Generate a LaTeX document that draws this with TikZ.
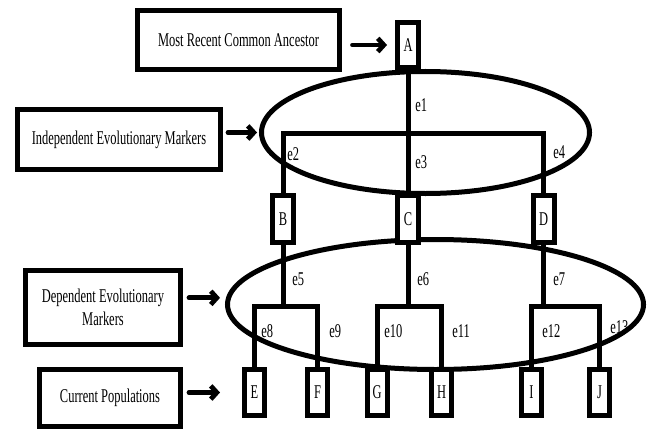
\documentclass[tikz,border=0pt]{standalone}
\usepackage{fontspec}
\setmainfont{Liberation Serif}[FakeStretch=0.64]
\usetikzlibrary{arrows.meta,shapes.geometric}
\begin{document}
\begin{tikzpicture}[x=0.75pt,y=-0.75pt,
  every node/.style={font=\fontsize{14.6pt}{17.25pt}\selectfont},
  lbl/.style={draw, line width=3.75pt, inner sep=0pt, align=center},
  leaf/.style={draw, line width=3.75pt, inner sep=0pt, minimum width=15.75pt, minimum height=35pt, fill=white},
  grp/.style={draw, line width=3.75pt, ellipse, inner sep=0pt},
  edge/.style={line width=3.75pt},
  elab/.style={anchor=base west, inner sep=0pt},
  arr/.style={line width=3.6pt, -{Straight Barb[length=4.5pt,width=10pt]}, line cap=round, line join=round}
]
\useasboundingbox (0,0) rectangle (648,431);

% group ellipses
\node[grp, minimum width=246pt, minimum height=91.5pt] (upE) at (425.5,132.5) {};
\node[grp, minimum width=312pt, minimum height=97.5pt] (loE) at (435.5,304.5) {};

% label boxes
\node[lbl, minimum width=151.5pt, minimum height=44.25pt] (mrca) at (238.5,40) {Most Recent Common Ancestor};
\node[lbl, minimum width=152.25pt, minimum height=45pt] (indep) at (119,139.5) {Independent Evolutionary Markers};
\node[lbl, minimum width=116.25pt, minimum height=55.5pt] (dep) at (103,307.5) {Dependent Evolutionary\\Markers};
\node[lbl, minimum width=105.75pt, minimum height=42.75pt] (cur) at (110,398) {Current Populations};

% tree nodes
\node[leaf, minimum height=33.75pt] (A) at (408,45) {A};
\node[leaf] (B) at (283,219) {B};
\node[leaf] (C) at (408,219) {C};
\node[leaf] (D) at (543.5,219) {D};
\node[leaf, minimum width=15pt, minimum height=34.5pt] (E) at (254.5,392.5) {E};
\node[leaf, minimum width=15pt, minimum height=34.5pt] (F) at (317.5,392.5) {F};
\node[leaf, minimum width=15pt, minimum height=34.5pt] (G) at (377,392.5) {G};
\node[leaf, minimum width=15pt, minimum height=34.5pt] (H) at (441.5,392.5) {H};
\node[leaf, minimum width=15pt, minimum height=34.5pt] (I) at (531.5,392.5) {I};
\node[leaf, minimum width=15pt, minimum height=34.5pt] (J) at (599.5,392.5) {J};

% junctions
\coordinate (j1) at (408,133);
\coordinate (j2) at (283,306);
\coordinate (j3) at (408,306);
\coordinate (j4) at (543.5,306);
\coordinate (depTip) at ([yshift=5pt]loE.west);

% tree edges
\draw[edge] (A.south) -- (C.north);
\draw[edge] (B.north) |- (j1) -| (D.north);
\draw[edge] (B.south) -- (j2);
\draw[edge] (E.north) |- (j2) -| (F.north);
\draw[edge] (C.south) -- (j3);
\draw[edge] (G.north) |- (j3) -| (H.north);
\draw[edge] (D.south) -- (j4);
\draw[edge] (I.north) |- (j4) -| (J.north);

% edge labels
\node[elab] at (415,112) {e1};
\node[elab] at (287,160) {e2};
\node[elab] at (415,168) {e3};
\node[elab] at (553,158) {e4};
\node[elab] at (292,285) {e5};
\node[elab] at (417,285) {e6};
\node[elab] at (553,285) {e7};
\node[elab] at (261,337) {e8};
\node[elab] at (329,337) {e9};
\node[elab] at (384,337) {e10};
\node[elab] at (452,337) {e11};
\node[elab] at (542,337) {e12};
\node[elab] at (610,333) {e13};

% pointer arrows
\draw[arr, shorten <=7.9pt, shorten >=6pt] (mrca.east |- A.west) -- (A.west);
\draw[arr, shorten <=3.75pt, shorten >=1.5pt] (indep.east |- upE.west) -- (upE.west);
\draw[arr, shorten <=4.5pt, shorten >=3.75pt] (dep.east |- depTip) -- (depTip);
\draw[arr, shorten <=4.5pt, shorten >=16.5pt] (cur.east |- E.west) -- (E.west);
\end{tikzpicture}
\end{document}
